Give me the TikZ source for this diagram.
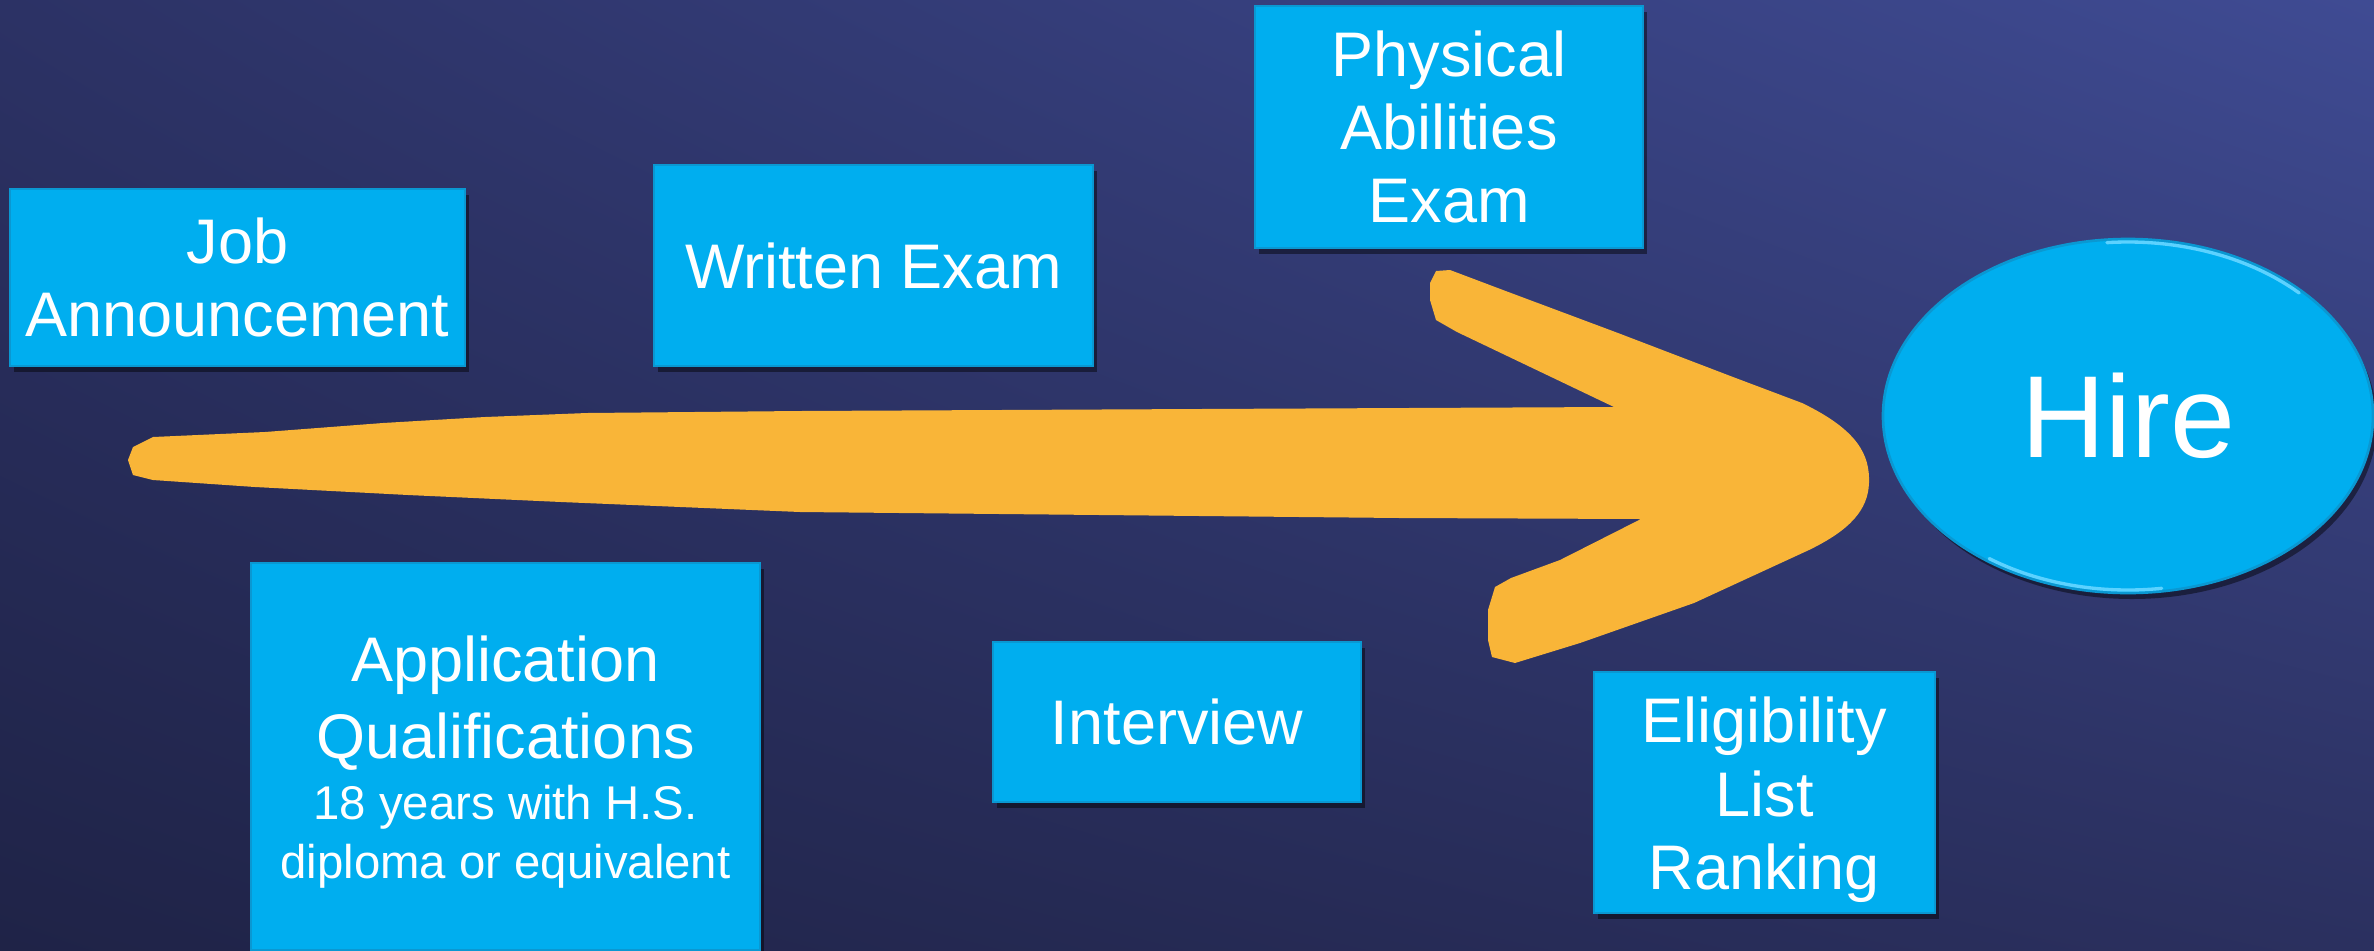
\documentclass[tikz,border=0pt]{standalone}
\usepackage{fontspec}
\setmainfont{Liberation Sans}
\usetikzlibrary{shadows,shapes.geometric,shadings}
\definecolor{boxc}{HTML}{00AEEF}
\definecolor{boxedge}{HTML}{0A98D2}
\definecolor{hilite}{HTML}{5CD2FF}
\definecolor{arrowc}{HTML}{F9B538}
\definecolor{bgTL}{HTML}{2C3265}
\definecolor{bgTR}{HTML}{3F4B93}
\definecolor{bgBL}{HTML}{1F2347}
\definecolor{bgBR}{HTML}{2B305F}
\tikzset{
  stagebox/.style={rectangle, fill=boxc, draw=boxedge, line width=0.8pt, text=white,
    align=center, inner sep=0pt, font=\fontsize{18.9}{22}\selectfont,
    drop shadow={shadow xshift=1.2pt, shadow yshift=-1.8pt, opacity=0.45, fill=black}},
  boxsize/.style 2 args={minimum width=#1*0.3pt, minimum height=#2*0.3pt},
  boxtext/.style={text=white, align=center, inner sep=0pt, font=\fontsize{18.9}{22}\selectfont},
  glint/.style={hilite, line width=1pt, line cap=round},
}
\begin{document}
\begin{tikzpicture}[x=0.3pt,y=-0.3pt]
\useasboundingbox (0,0) rectangle (2374,950);
\shade[upper left=bgTL, upper right=bgTR, lower left=bgBL, lower right=bgBR] (0,0) rectangle (2374,950);

% brush arrow
\fill[arrowc] (128,460) -- (133,447) -- (153,437) -- (265,432) -- (383,423) -- (485,417)
  -- (587,413) -- (800,411) -- (1200,409) -- (1614,407) -- (1457,332) -- (1436,320)
  -- (1430,300) -- (1430,283) -- (1436,271) -- (1450,270) -- (1503,290) -- (1618,333)
  -- (1733,377) -- (1802,403) .. controls (1858,430) and (1870,455) .. (1869,483)
  .. controls (1868,510) and (1850,530) .. (1809,550) -- (1694,603) -- (1580,643)
  -- (1515,663) -- (1492,657) -- (1488,640) -- (1488,610) -- (1495,587) -- (1511,578)
  -- (1560,560) -- (1641,519) -- (1400,518) -- (1000,514) -- (800,512) -- (561,502)
  -- (408,495) -- (255,487) -- (153,480) -- (133,475) -- cycle;

\node[stagebox, boxsize={455}{177}] (job) at (237.5,277.5) {Job\\Announcement};
\node[stagebox, boxsize={439}{201}] (written) at (873.5,265.5) {Written Exam};
\node[stagebox, boxsize={388}{242}] (physical) at (1449,127) {Physical\\Abilities\\Exam};
\node[stagebox, boxsize={509}{387}] (application) at (505.5,756.5) {};
\node[boxtext] (applicationtext) at (505.5,762)
  {Application\\[1pt]Qualifications\\[-3.7pt]{\fontsize{14.2}{17.4}\selectfont 18 years with H.S.}\\[-4.4pt]{\fontsize{14.2}{17.4}\selectfont diploma or equivalent}};
\node[stagebox, boxsize={368}{160}] (interview) at (1177,722) {Interview};
\node[stagebox, boxsize={341}{241}] (eligibility) at (1764.5,792.5) {};
\node[boxtext] (eligibilitytext) at (1764.5,800) {Eligibility\\List\\Ranking};
\node[stagebox, ellipse, boxsize={490}{354}, font=\fontsize{35}{40}\selectfont] (hire) at (2128,416) {Hire};
\draw[glint] ([shift={(-95:242 and 174)}]hire.center) arc[start angle=-95, end angle=-45, x radius=242, y radius=174];
\draw[glint] ([shift={(82:242 and 174)}]hire.center) arc[start angle=82, end angle=125, x radius=242, y radius=174];
\end{tikzpicture}
\end{document}
